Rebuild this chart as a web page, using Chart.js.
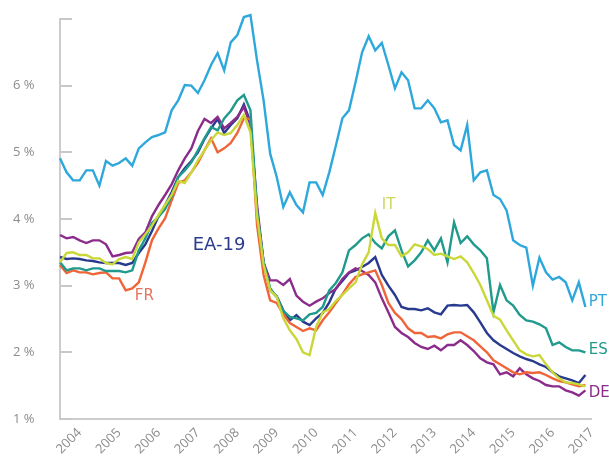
<!DOCTYPE html>
<html>
<head>
<meta charset="utf-8">
<script src="https://cdn.jsdelivr.net/npm/chart.js@4.4.0/dist/chart.umd.min.js"></script>
<style>
  html, body { margin: 0; padding: 0; background: #fff; }
  #wrap { width: 609px; height: 465px; }
</style>
</head>
<body>
<div id="wrap"><canvas id="rates" width="609" height="465"></canvas></div>
<script>
// bi-monthly observations, Jul 2003 .. Jan 2017
var months = [];
for (var yr = 2003; yr <= 2017; yr++) {
  ["01", "03", "05", "07", "09", "11"].forEach(function (m) {
    var key = yr + "-" + m;
    if (key >= "2003-07" && key <= "2017-01") months.push(key);
  });
}
var yearTicks = ["2004", "2005", "2006", "2007", "2008", "2009", "2010",
  "2011", "2012", "2013", "2014", "2015", "2016", "2017"];

var pt = [4.91, 4.70, 4.58, 4.58, 4.73, 4.73, 4.50, 4.87, 4.80, 4.84,
  4.91, 4.80, 5.06, 5.15, 5.23, 5.26, 5.30, 5.63, 5.78, 6.01,
  6.00, 5.89, 6.08, 6.31, 6.49, 6.23, 6.65, 6.76, 7.03, 7.06,
  6.38, 5.78, 4.98, 4.63, 4.18, 4.40, 4.21, 4.10, 4.55, 4.55,
  4.36, 4.70, 5.10, 5.51, 5.63, 6.05, 6.50, 6.74, 6.53, 6.64,
  6.31, 5.96, 6.20, 6.08, 5.66, 5.66, 5.78, 5.66, 5.45, 5.48,
  5.11, 5.03, 5.41, 4.58, 4.70, 4.73, 4.36, 4.30, 4.13, 3.68,
  3.61, 3.57, 3.00, 3.42, 3.20, 3.09, 3.13, 3.05, 2.78, 3.05, 2.68];

var es = [3.35, 3.23, 3.26, 3.26, 3.23, 3.26, 3.26, 3.22, 3.22, 3.22,
  3.20, 3.23, 3.53, 3.71, 3.94, 4.03, 4.15, 4.34, 4.63, 4.73,
  4.85, 5.03, 5.21, 5.38, 5.33, 5.51, 5.62, 5.78, 5.86, 5.63,
  4.13, 3.35, 2.96, 2.83, 2.62, 2.53, 2.51, 2.48, 2.57, 2.59,
  2.68, 2.93, 3.04, 3.20, 3.53, 3.61, 3.71, 3.77, 3.64, 3.56,
  3.74, 3.83, 3.53, 3.29, 3.38, 3.50, 3.68, 3.53, 3.71, 3.35,
  3.95, 3.64, 3.74, 3.62, 3.53, 3.41, 2.60, 3.01, 2.78, 2.70,
  2.56, 2.48, 2.46, 2.42, 2.36, 2.11, 2.15, 2.08, 2.03, 2.03, 2.00];

var it = [3.35, 3.49, 3.50, 3.46, 3.46, 3.41, 3.41, 3.34, 3.32, 3.40,
  3.43, 3.40, 3.65, 3.77, 3.90, 4.06, 4.21, 4.36, 4.57, 4.54,
  4.70, 4.88, 5.03, 5.18, 5.30, 5.26, 5.29, 5.41, 5.56, 5.30,
  4.06, 3.31, 2.93, 2.83, 2.51, 2.33, 2.20, 2.00, 1.96, 2.38,
  2.60, 2.65, 2.77, 2.86, 2.96, 3.05, 3.32, 3.50, 4.09, 3.71,
  3.61, 3.61, 3.44, 3.50, 3.62, 3.59, 3.55, 3.46, 3.48, 3.44,
  3.40, 3.44, 3.35, 3.19, 3.01, 2.78, 2.55, 2.49, 2.33, 2.18,
  2.03, 1.97, 1.94, 1.96, 1.82, 1.70, 1.61, 1.55, 1.54, 1.52, 1.49];

var fr = [3.31, 3.19, 3.23, 3.20, 3.20, 3.17, 3.19, 3.20, 3.11, 3.11,
  2.93, 2.96, 3.05, 3.35, 3.68, 3.86, 4.01, 4.28, 4.54, 4.58,
  4.70, 4.84, 5.03, 5.21, 5.00, 5.06, 5.14, 5.29, 5.51, 5.50,
  3.91, 3.16, 2.78, 2.74, 2.57, 2.44, 2.38, 2.32, 2.36, 2.33,
  2.48, 2.60, 2.74, 2.87, 3.02, 3.13, 3.17, 3.20, 3.23, 3.01,
  2.74, 2.59, 2.50, 2.36, 2.29, 2.29, 2.23, 2.24, 2.21, 2.27,
  2.30, 2.30, 2.24, 2.18, 2.09, 2.00, 1.88, 1.82, 1.76, 1.70,
  1.67, 1.70, 1.69, 1.70, 1.66, 1.61, 1.57, 1.55, 1.52, 1.49, 1.51];

var de = [3.76, 3.71, 3.73, 3.68, 3.64, 3.68, 3.68, 3.62, 3.44, 3.46,
  3.49, 3.50, 3.70, 3.80, 4.04, 4.21, 4.36, 4.52, 4.73, 4.91,
  5.06, 5.32, 5.50, 5.44, 5.53, 5.36, 5.44, 5.53, 5.68, 5.41,
  4.21, 3.35, 3.08, 3.08, 3.01, 3.10, 2.85, 2.76, 2.70, 2.76,
  2.81, 2.89, 2.95, 3.10, 3.20, 3.26, 3.22, 3.16, 3.05, 2.81,
  2.60, 2.38, 2.29, 2.23, 2.14, 2.08, 2.05, 2.10, 2.03, 2.11,
  2.11, 2.18, 2.11, 2.02, 1.91, 1.85, 1.82, 1.67, 1.70, 1.64,
  1.76, 1.67, 1.61, 1.57, 1.51, 1.49, 1.49, 1.43, 1.40, 1.35, 1.43];

var ea = [3.43, 3.40, 3.41, 3.40, 3.38, 3.37, 3.35, 3.34, 3.34, 3.34,
  3.31, 3.34, 3.49, 3.62, 3.82, 4.04, 4.21, 4.40, 4.63, 4.76,
  4.87, 5.00, 5.20, 5.36, 5.50, 5.29, 5.41, 5.51, 5.72, 5.45,
  4.13, 3.35, 2.93, 2.84, 2.63, 2.48, 2.56, 2.46, 2.41, 2.51,
  2.59, 2.75, 2.96, 3.07, 3.19, 3.23, 3.28, 3.34, 3.43, 3.16,
  3.00, 2.86, 2.68, 2.65, 2.65, 2.63, 2.66, 2.60, 2.57, 2.70,
  2.71, 2.70, 2.71, 2.60, 2.45, 2.29, 2.18, 2.11, 2.05, 1.99,
  1.94, 1.90, 1.87, 1.82, 1.78, 1.70, 1.64, 1.61, 1.58, 1.54, 1.66];

// text labels: [text, category index, value, colour, font size]
var seriesLabels = [
  ["PT", 80.5, 2.75, "#2ea8dc", 15],
  ["ES", 80.5, 2.03, "#1f9a8c", 15],
  ["DE", 80.5, 1.39, "#8b2c8c", 15],
  ["IT", 49, 4.21, "#cbd85a", 15],
  ["FR", 11.4, 2.85, "#e5745f", 15],
  ["EA-19", 20.2, 3.6, "#2b3b8d", 18]
];

function line(label, data, color) {
  return {
    label: label, data: data, borderColor: color, backgroundColor: color,
    borderWidth: 2.4, pointRadius: 0, tension: 0, fill: false, clip: false
  };
}

var innerTicks = {
  id: "innerTicks",
  afterDraw: function (chart) {
    var y = chart.scales.y, ctx = chart.ctx, left = chart.chartArea.left;
    ctx.save();
    ctx.strokeStyle = "#c8c8c8";
    ctx.lineWidth = 2;
    y.ticks.forEach(function (t) {
      var py = Math.round(y.getPixelForValue(t.value));
      ctx.beginPath();
      ctx.moveTo(left, py);
      ctx.lineTo(left + 12, py);
      ctx.stroke();
    });
    ctx.restore();
  }
};

var textLabels = {
  id: "textLabels",
  afterDatasetsDraw: function (chart) {
    var xs = chart.scales.x, ys = chart.scales.y, ctx = chart.ctx;
    ctx.save();
    ctx.textAlign = "left";
    ctx.textBaseline = "middle";
    seriesLabels.forEach(function (l) {
      ctx.fillStyle = l[3];
      ctx.font = l[4] + "px 'DejaVu Sans', sans-serif";
      ctx.fillText(l[0], xs.getPixelForValue(l[1]), ys.getPixelForValue(l[2]));
    });
    ctx.restore();
  }
};

new Chart(document.getElementById("rates").getContext("2d"), {
  type: "line",
  data: {
    labels: months,
    datasets: [
      line("PT", pt, "#2ea8dc"),
      line("IT", it, "#c9d838"),
      line("ES", es, "#1f9a8c"),
      line("FR", fr, "#ef6539"),
      line("DE", de, "#8b2c8c"),
      line("EA-19", ea, "#283a8e")
    ]
  },
  options: {
    responsive: false,
    animation: false,
    layout: { padding: { top: 19, right: 16, left: 13, bottom: 0 } },
    plugins: { legend: { display: false }, tooltip: { enabled: false } },
    scales: {
      x: {
        grid: { display: false, drawTicks: false },
        border: { display: true, color: "#cccccc", width: 2 },
        afterFit: function (s) { s.height = 46; },
        ticks: {
          autoSkip: false, maxRotation: 45, minRotation: 45, padding: 6,
          color: "#8c8c8c", font: { family: "'Open Sans'", size: 13 },
          callback: function (v) {
            var m = months[v];
            var y = m.slice(0, 4);
            return (m.slice(5) === "01" && yearTicks.indexOf(y) >= 0) ? y : "";
          }
        }
      },
      y: {
        min: 1, max: 7,
        grid: { display: false, drawTicks: false },
        border: { display: true, color: "#cccccc", width: 2 },
        afterFit: function (s) { s.width = 47; },
        ticks: {
          stepSize: 1, padding: 0, crossAlign: "far",
          color: "#8c8c8c", font: { family: "'Open Sans'", size: 13 },
          callback: function (v) { return v === 7 ? "" : v + " %"; }
        }
      }
    }
  },
  plugins: [innerTicks, textLabels]
});
</script>
</body>
</html>
